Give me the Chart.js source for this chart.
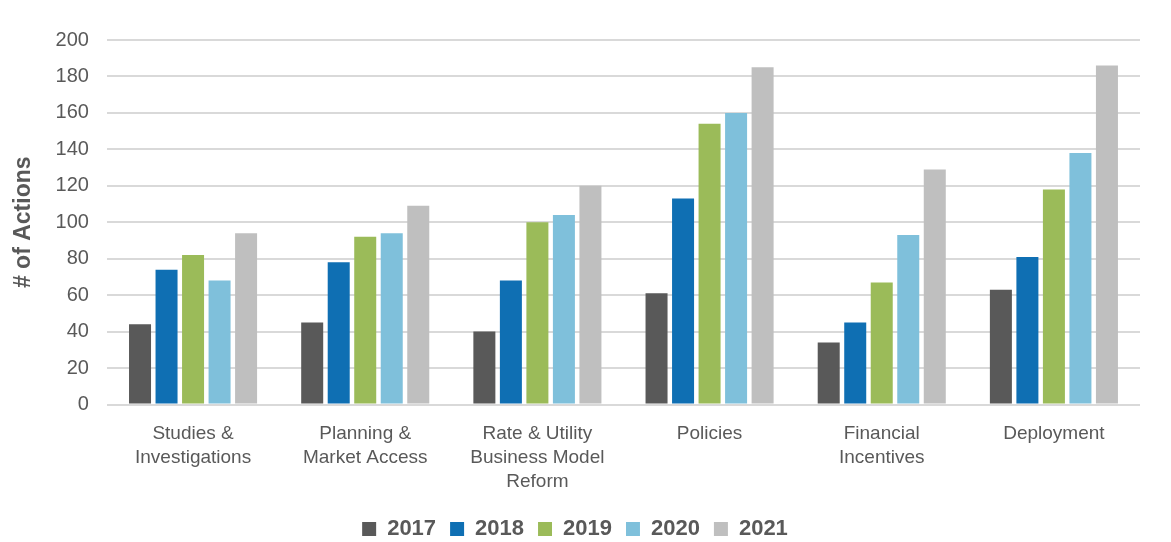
<!DOCTYPE html>
<html>
<head>
<meta charset="utf-8">
<script src="https://cdn.jsdelivr.net/npm/chart.js@4"></script>
<style>
    html, body { margin: 0; padding: 0; background: #fff; }
    #wrap { width: 1171px; height: 542px; }
</style>
</head>
<body>
<div id="wrap"><canvas id="actionsChart" width="1171" height="542"></canvas></div>
<script>
const categories = [
    ["Studies &", "Investigations"],
    ["Planning &", "Market Access"],
    ["Rate & Utility", "Business Model", "Reform"],
    "Policies",
    ["Financial", "Incentives"],
    "Deployment"
];

const years = ["2017", "2018", "2019", "2020", "2021"];

const values2017 = [44, 45, 40, 61, 34, 63];
const values2018 = [74, 78, 68, 113, 45, 81];
const values2019 = [82, 92, 100, 154, 67, 118];
const values2020 = [68, 94, 104, 160, 93, 138];
const values2021 = [94, 109, 120, 185, 129, 186];

const yTicks = [0, 20, 40, 60, 80, 100, 120, 140, 160, 180, 200];

const colors = ['#595959', '#0F6FB3', '#9BBB59', '#7FC0DB', '#BFBFBF'];
const seriesValues = [values2017, values2018, values2019, values2020, values2021];

const textColor = '#595959';
const fontFamily = '"Liberation Sans", Arial, sans-serif';

new Chart("actionsChart", {
    type: "bar",
    data: {
        labels: categories,
        datasets: years.map((year, i) => {
            return {
                label: year,
                data: seriesValues[i],
                backgroundColor: colors[i],
                borderWidth: 0,
                categoryPercentage: 0.77,
                barPercentage: 0.83
            };
        })
    },
    options: {
        responsive: false,
        animation: false,
        layout: {
            padding: { top: 40, right: 31, left: 10, bottom: -8 }
        },
        plugins: {
            tooltip: { enabled: false },
            legend: {
                position: 'bottom',
                labels: {
                    color: textColor,
                    font: { family: fontFamily, size: 22, weight: 'bold' },
                    boxWidth: 14,
                    boxHeight: 14,
                    padding: 14
                }
            }
        },
        scales: {
            x: {
                grid: { display: false },
                border: { display: false },
                ticks: {
                    color: textColor,
                    font: { family: fontFamily, size: 19, lineHeight: 1.263 },
                    maxRotation: 0,
                    autoSkip: false,
                    padding: 9
                },
                afterFit: function (axis) {
                    axis.height += 1.5;
                }
            },
            y: {
                min: 0,
                max: 200,
                afterBuildTicks: function (axis) {
                    axis.ticks = yTicks.map(v => ({ value: v }));
                },
                grid: {
                    color: '#D9D9D9',
                    lineWidth: 2,
                    drawTicks: false
                },
                border: { display: false },
                ticks: {
                    color: textColor,
                    font: { family: fontFamily, size: 20 },
                    padding: 18
                },
                title: {
                    display: true,
                    text: '# of Actions',
                    color: textColor,
                    font: { family: fontFamily, size: 23, weight: 'bold' },
                    padding: { top: 0, bottom: 0 }
                }
            }
        }
    }
});
</script>
</body>
</html>
